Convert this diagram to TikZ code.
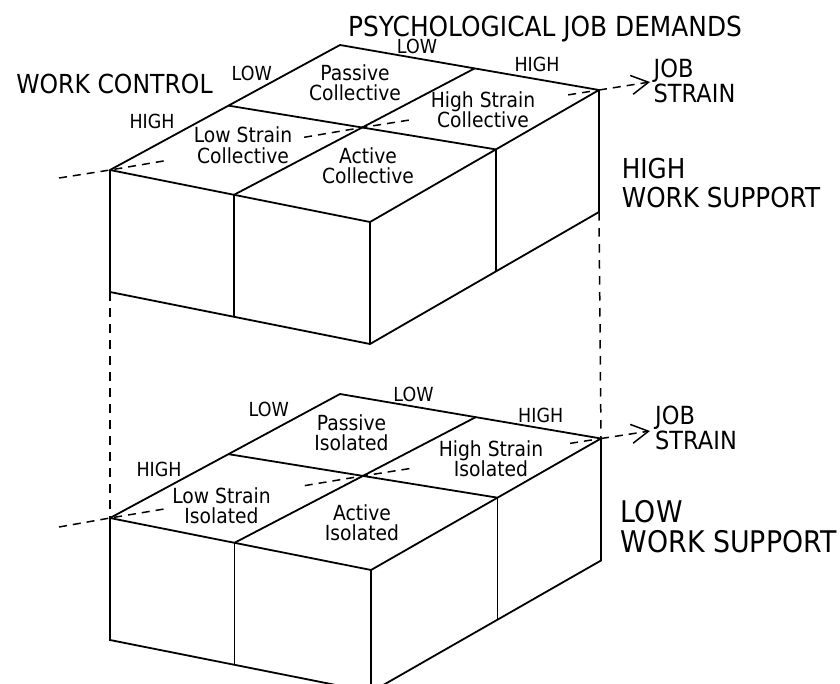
\documentclass[tikz,border=0pt]{standalone}
\usepackage{fontspec}
\setmainfont{DejaVu Sans}[FakeStretch=0.9]
\usetikzlibrary{calc,arrows.meta}
\begin{document}
\begin{tikzpicture}[x=1pt,y=-1pt,
  edge/.style={line width=1.8pt, line join=miter},
  guide/.style={line width=1.5pt, dash pattern=on 8pt off 6pt},
  vguide/.style={line width=1.5pt, dash pattern=on 8.5pt off 7.5pt},
  strainarrow/.style={guide, -{Straight Barb[length=17pt, width=19pt, line width=1.5pt]}},
  cell/.style={font=\fontsize{20.8}{20.5}\selectfont, align=center, inner sep=0pt, anchor=south},
  lvl/.style={font=\fontsize{19.4}{20}\selectfont, inner sep=0pt, anchor=base},
  head/.style={inner sep=0pt, align=left, anchor=south west}
]
\useasboundingbox (0,0) rectangle (840,683);
\clip (0,0) rectangle (840,683);

% ---------- upper block: high work support ----------
\coordinate (L1) at (110,170);
\coordinate (B1) at (340,45);
\coordinate (R1) at (599,90);
\coordinate (F1) at (370,222);
\coordinate (LB1) at ($(L1)!0.515!(B1)$);
\coordinate (BR1) at ($(B1)!0.52!(R1)$);
\coordinate (FL1) at ($(L1)!0.477!(F1)$);
\coordinate (FR1) at ($(F1)!0.55!(R1)$);
\coordinate (C1) at (intersection of LB1--FR1 and BR1--FL1);
\coordinate (L1b) at ($(L1)+(0,122)$);
\coordinate (F1b) at ($(F1)+(0,122)$);
\coordinate (R1b) at ($(R1)+(0,122)$);
\coordinate (FL1b) at ($(FL1)+(0,122)$);
\coordinate (FR1b) at ($(FR1)+(0,122)$);
\coordinate (W1) at (59,178);
\coordinate (T1) at (650,82);

\draw[edge] (L1) -- (B1) -- (R1) -- (R1b) -- (F1b) -- (L1b) -- cycle;
\draw[edge] (L1) -- (F1) -- (R1);
\draw[edge] (F1) -- (F1b);
\draw[edge] (FL1) -- (FL1b);
\draw[edge] (FR1) -- (FR1b);
\draw[edge] (LB1) -- (FR1);
\draw[edge] (BR1) -- (FL1);

\draw[guide] (W1) -- (L1) -- ($(L1)!0.217!(C1)$);
\draw[guide] ($(L1)!0.77!(C1)$) -- (C1) -- ($(C1)!0.2!(R1)$);
\draw[guide] ($(C1)!0.87!(R1)$) -- (R1);
\draw[strainarrow] (R1) -- (T1);

% ---------- lower block: low work support ----------
\coordinate (L2) at (110,518);
\coordinate (B2) at (340,394);
\coordinate (R2) at (601,438.5);
\coordinate (F2) at (371,570);
\coordinate (LB2) at ($(L2)!0.515!(B2)$);
\coordinate (BR2) at ($(B2)!0.52!(R2)$);
\coordinate (FL2) at ($(L2)!0.477!(F2)$);
\coordinate (FR2) at ($(F2)!0.55!(R2)$);
\coordinate (C2) at (intersection of LB2--FR2 and BR2--FL2);
\coordinate (L2b) at ($(L2)+(0,122)$);
\coordinate (F2b) at ($(F2)+(0,122)$);
\coordinate (R2b) at ($(R2)+(0,122)$);
\coordinate (FL2b) at ($(FL2)+(0,122)$);
\coordinate (FR2b) at ($(FR2)+(0,122)$);
\coordinate (W2) at (59,527);
\coordinate (T2) at (650,431);

\draw[edge] (L2) -- (B2) -- (R2) -- (R2b) -- (F2b) -- (L2b) -- cycle;
\draw[edge] (L2) -- (F2) -- (R2);
\draw[edge] (F2) -- (F2b);
\draw[edge] (FL2) -- (FL2b);
\draw[edge] (FR2) -- (FR2b);
\draw[edge] (LB2) -- (FR2);
\draw[edge] (BR2) -- (FL2);

\draw[guide] (W2) -- (L2) -- ($(L2)!0.217!(C2)$);
\draw[guide] ($(L2)!0.77!(C2)$) -- (C2) -- ($(C2)!0.2!(R2)$);
\draw[guide] ($(C2)!0.87!(R2)$) -- (R2);
\draw[strainarrow] (R2) -- (T2);

% vertical links between the two blocks
\draw[vguide] (L1b) -- (L2);
\draw[vguide] (R1b) -- (R2);

% ---------- cell names ----------
\node[cell] (pc)  at (355,101)   {Passive\\Collective};
\node[cell] (lsc) at (243,163.5) {Low Strain\\Collective};
\node[cell] (ac)  at (368,184)   {Active\\Collective};
\node[cell] (hsc) at (483,128.3) {High Strain\\Collective};

\node[cell] (pi)  at (351.5,451) {Passive\\Isolated};
\node[cell] (lsi) at (221.5,524) {Low Strain\\Isolated};
\node[cell] (ai)  at (362,541)   {Active\\Isolated};
\node[cell] (hsi) at (491,477)   {High Strain\\Isolated};

% ---------- level labels along the edges ----------
\node[lvl] (ctlLow1)  at (251.7,80)   {LOW};
\node[lvl] (ctlHigh1) at (152,128.3)  {HIGH};
\node[lvl] (demLow1)  at (417,53.7)   {LOW};
\node[lvl] (demHigh1) at (537,71.7)   {HIGH};

\node[lvl] (ctlLow2)  at (268.8,416.8) {LOW};
\node[lvl] (ctlHigh2) at (159,476)     {HIGH};
\node[lvl] (demLow2)  at (413.5,401)   {LOW};
\node[lvl] (demHigh2) at (540.7,422)   {HIGH};

% ---------- axis titles ----------
\node[inner sep=0pt, anchor=base, font=\fontsize{26.2}{28}\selectfont]
  (wc) at (114.5,93.3) {WORK CONTROL};
\node[inner sep=0pt, anchor=base, font=\fontsize{27.6}{29}\selectfont]
  (pjd) at (545,36.7) {PSYCHOLOGICAL JOB DEMANDS};
\node[head, font=\fontsize{27.4}{29}\selectfont]
  (hws) at (621.7,208.3) {HIGH\\WORK SUPPORT};
\node[head, font=\fontsize{29.8}{30}\selectfont]
  (lws) at (620.7,553.3) {LOW\\WORK SUPPORT};
\node[head, font=\fontsize{25}{21}\selectfont]
  (js1) at (653.5,102.7) {JOB\\STRAIN};
\node[head, font=\fontsize{25}{21.7}\selectfont]
  (js2) at (655,450) {JOB\\STRAIN};
\end{tikzpicture}
\end{document}
